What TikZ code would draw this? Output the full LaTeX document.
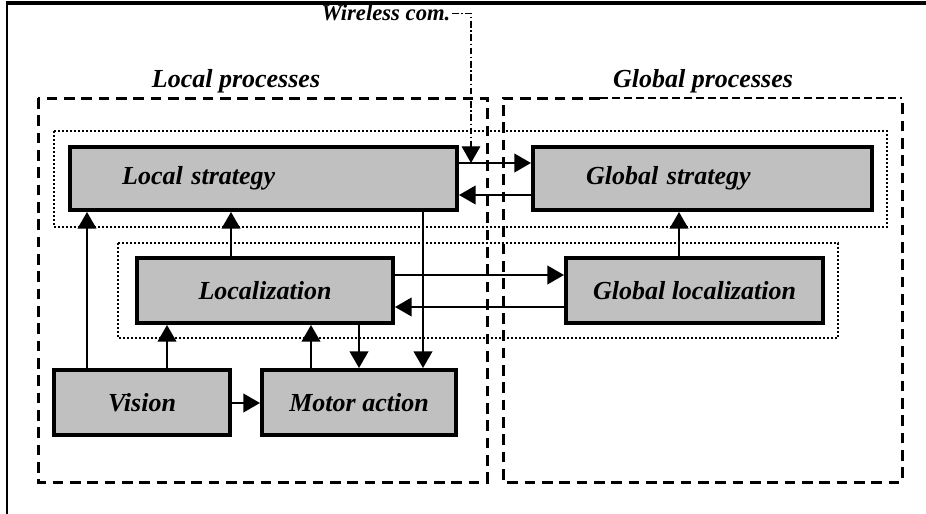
\documentclass[tikz,border=0pt]{standalone}
\usepackage{fontspec}
\setmainfont{Liberation Serif}
\usetikzlibrary{arrows.meta}
\definecolor{boxgray}{HTML}{C0C0C0}
\tikzset{
  procbox/.style={draw=black, line width=3pt, fill=boxgray, inner sep=0pt,
    font=\bfseries\itshape\fontsize{19.5}{22}\selectfont},
  conn/.style={line width=1.5pt, -{Triangle[length=12.5pt,width=14pt]}},
  wlink/.style={line width=0.8pt, dash pattern=on 5pt off 2pt on 1pt off 2pt,
    -{Triangle[length=12.5pt,width=14pt]}},
  groupbox/.style={line width=2.25pt, dash pattern=on 8pt off 5pt},
  layerbox/.style={line width=1.5pt, dash pattern=on 1.5pt off 1.5pt},
  grouptitle/.style={font=\bfseries\itshape\fontsize{19.5}{22}\selectfont}
}

\begin{document}
\begin{tikzpicture}[x=0.75pt,y=-0.75pt]
			%%%%% START %%%%%
			\useasboundingbox (0,0) rectangle (926,514);
			
			\draw[line width=2.5pt] (926,3) -- (6,3);
			\draw[line width=1.2pt] (7,3) -- (7,514);
			
			\draw[groupbox] (38,98) rectangle (487,482);
			\draw[groupbox] (600,98) -- (503,98) -- (503,482) -- (902,482) -- (902,98);
			\draw[line width=0.9pt, dash pattern=on 6pt off 3pt] (600,98) -- (902,98);
			\node[grouptitle, anchor=base] (ltitle) at (236,87) {Local processes};
			\node[grouptitle, anchor=base] (gtitle) at (703,87) {Global processes};
			
			\draw[layerbox] (54,131) rectangle (887,227);
			\draw[layerbox] (118,243) rectangle (838,338);
			
			\node[procbox, minimum width=290.25pt, minimum height=47.25pt, text width=212pt, align=left] (lstrat) at (263.5,178.5) {Local strategy};
			\node[procbox, minimum width=254.25pt, minimum height=47.25pt, text width=174.75pt, align=left] (gstrat) at (702.5,178.5) {Global strategy};
			\node[procbox, minimum width=192pt, minimum height=48.75pt] (loc) at (265,290.5) {Localization};
			\node[procbox, minimum width=192.75pt, minimum height=48.75pt] (gloc) at (694.5,290.5) {Global localization};
			\node[procbox, minimum width=132pt, minimum height=48.75pt] (vision) at (142,402.5) {Vision};
			\node[procbox, minimum width=145.5pt, minimum height=48.75pt] (motor) at (359,402.5) {Motor action};
			
			\draw[conn] (vision.north -| 87,0) -- (lstrat.south -| 87,0);
			\draw[conn] (vision.north -| 167,0) -- (loc.south -| 167,0);
			\draw[conn] (loc.north -| 231,0) -- (lstrat.south -| 231,0);
			\draw[conn] (motor.north -| 311,0) -- (loc.south -| 311,0);
			\draw[conn] (loc.south -| 359,0) -- (motor.north -| 359,0);
			\draw[conn] (lstrat.south -| 423,0) -- (motor.north -| 423,0);
			\draw[conn] (vision.east |- 0,403) -- (motor.west |- 0,403);
			\draw[conn] (lstrat.east |- 0,163) -- (gstrat.west |- 0,163);
			\draw[conn] (gstrat.west |- 0,195) -- (lstrat.east |- 0,195);
			\draw[conn] (loc.east |- 0,275) -- (gloc.west |- 0,275);
			\draw[conn] (gloc.west |- 0,307) -- (loc.east |- 0,307);
			\draw[conn] (gloc.north -| 679,0) -- (gstrat.south -| 679,0);
			
			\node[anchor=base east, inner sep=1pt, font=\bfseries\itshape\fontsize{17}{19}\selectfont] (wless) at (452,21) {Wireless com.};
			\coordinate (wtip) at (471,163);
			\draw[wlink] (wless.east) -| (wtip);
			
			%%%%% END %%%%%
		\end{tikzpicture}
\end{document}
